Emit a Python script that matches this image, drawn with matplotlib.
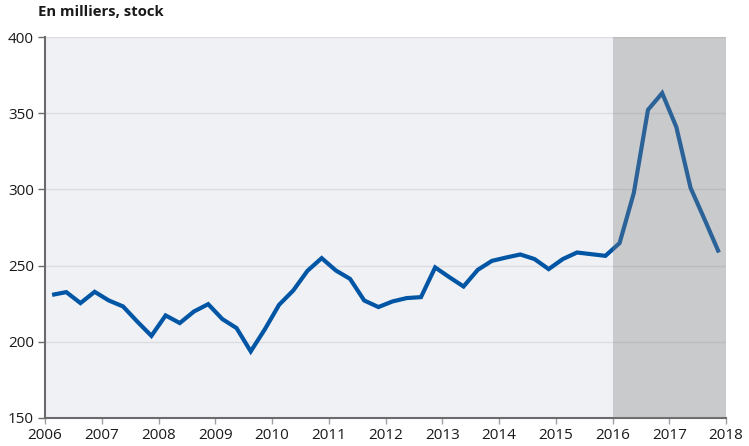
import numpy as np
import matplotlib
matplotlib.use("Agg")
import matplotlib.pyplot as plt

plt.rcParams['font.family'] = ['Open Sans', 'DejaVu Sans']

# Quarterly stock, in thousands, 2006 Q1 to 2017 Q4
start_year = 2006
values = [
    230.8, 232.6, 225.4, 232.8,   # 2006
    227.1, 223.2, 213.3, 203.9,   # 2007
    217.3, 212.3, 219.9, 224.7,   # 2008
    214.9, 209.0, 193.7, 208.3,   # 2009
    224.3, 233.7, 246.6, 254.9,   # 2010
    246.8, 241.3, 227.1, 222.8,   # 2011
    226.5, 228.7, 229.3, 248.8,   # 2012
    242.4, 236.3, 247.2, 253.1,   # 2013
    255.3, 257.3, 254.3, 247.7,   # 2014
    254.3, 258.6, 257.5, 256.4,   # 2015
    264.8, 297.6, 352.2, 363.2,   # 2016
    340.9, 301.1, 280.1, 258.6,   # 2017
]
shade_span = (2016, 2018)
year_ticks = list(range(2006, 2019))
y_ticks = [150, 200, 250, 300, 350, 400]
title = "En milliers, stock"

x = start_year + (np.arange(len(values)) + 0.5) / 4.0

fig = plt.figure(figsize=(7.49, 4.46), dpi=100)
ax = fig.add_axes([0.0601, 0.0628, 0.9092, 0.8542])
ax.set_facecolor('#f0f1f4')

ax.grid(axis='y', color='#dcdde1', linewidth=1.0, zorder=1)
ax.set_axisbelow(True)

ax.plot(x, values, color='#0055a5', linewidth=3.0, solid_joinstyle='miter',
        solid_capstyle='butt', zorder=3)

# forecast band overlays the series
ax.axvspan(shade_span[0], shade_span[1], color='#7f7f7f', alpha=0.34,
           linewidth=0, zorder=4)

ax.set_xlim(2006, 2018)
ax.set_ylim(150, 400)
ax.set_xticks(year_ticks)
ax.set_xticklabels([str(y) for y in year_ticks])
ax.set_yticks(y_ticks)

for side in ('top', 'right'):
    ax.spines[side].set_visible(False)
ax.spines['left'].set_color('#6b6b6e')
ax.spines['left'].set_linewidth(1.5)
ax.spines['bottom'].set_color('#6b6b6e')
ax.spines['bottom'].set_linewidth(1.5)

ax.tick_params(axis='y', length=5, width=1, color='#6b6b6e', labelsize=11,
               pad=3, labelcolor='#1a1a1a')
ax.tick_params(axis='x', length=4, width=1, color='#a0a0a4', labelsize=11,
               pad=3.5, labelcolor='#1a1a1a')

fig.text(0.0507, 0.972, title, fontsize=10.7, fontweight='bold',
         color='#1a1a1a', ha='left', va='center')

fig.savefig('out.png', dpi=100)
